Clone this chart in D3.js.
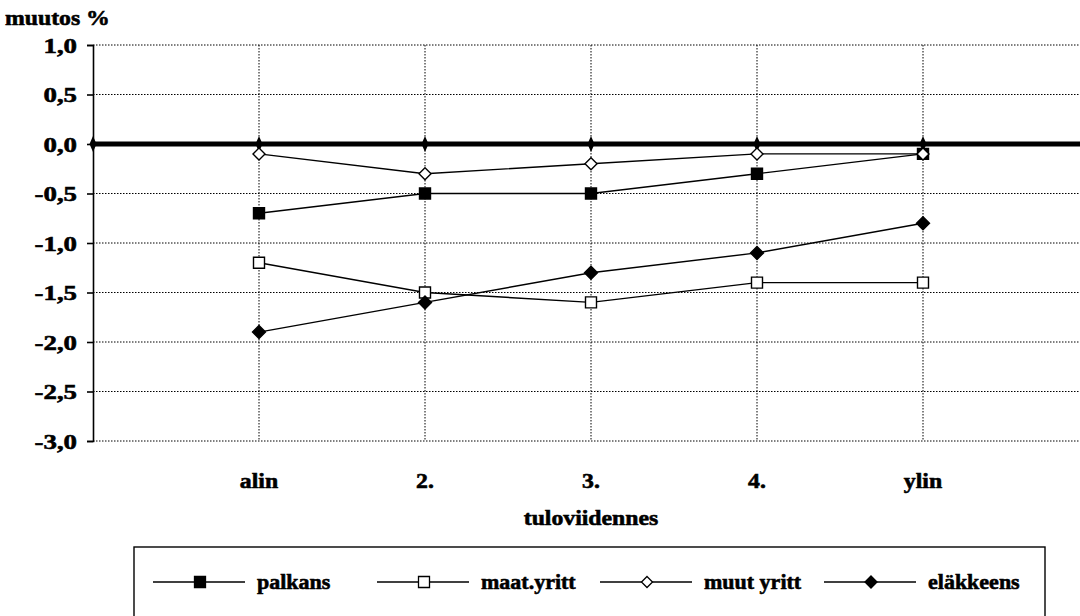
<!DOCTYPE html>
<html><head><meta charset="utf-8">
<script src="https://cdn.jsdelivr.net/npm/d3@7"></script>
<style>body{margin:0;background:#fff}svg{display:block}text{font-family:"Liberation Serif","Times New Roman",serif;font-weight:bold;fill:#000;stroke:#000;stroke-width:0.6px}</style>
</head><body><svg id="c" width="1080" height="616"></svg>
<script>
const categories = ["alin", "2.", "3.", "4.", "ylin"];
const palkans = [-0.7, -0.5, -0.5, -0.3, -0.1];
const maatYritt = [-1.2, -1.5, -1.6, -1.4, -1.4];
const muutYritt = [-0.1, -0.3, -0.2, -0.1, -0.1];
const elakkeens = [-1.9, -1.6, -1.3, -1.1, -0.8];
const zeroLine = [0, 0, 0, 0, 0, 0, 0];
const yTicks = [1.0, 0.5, 0.0, -0.5, -1.0, -1.5, -2.0, -2.5, -3.0];
const seriesNames = ["palkans", "maat.yritt", "muut yritt", "eläkkeens"];

const svg = d3.select("#c");
const x = d3.scaleLinear().domain([0, 6]).range([93, 1089]);
const y = d3.scaleLinear().domain([-3, 1]).range([441, 45]);
const fmt = v => d3.format(".1f")(v).replace(".", ",").replace("−", "-");

// gridlines
svg.append("g").selectAll("line").data(yTicks).join("line")
  .attr("x1", x(0)).attr("x2", x(6)).attr("y1", d => y(d)).attr("y2", d => y(d))
  .attr("stroke", "#000").attr("stroke-width", 1).attr("stroke-dasharray", "1.5,1.5");
svg.append("g").selectAll("line").data(categories).join("line")
  .attr("x1", (d, i) => x(i + 1)).attr("x2", (d, i) => x(i + 1)).attr("y1", y(1)).attr("y2", y(-3))
  .attr("stroke", "#000").attr("stroke-width", 1).attr("stroke-dasharray", "1.5,1.5");

// y axis
const yAxis = d3.axisLeft(y).tickValues(yTicks).tickSize(6).tickFormat(fmt);
const ga = svg.append("g").attr("transform", `translate(${x(0)},0)`).call(yAxis);
ga.select(".domain").attr("stroke", "#000").attr("stroke-width", 1.6);
ga.selectAll(".tick line").attr("stroke", "#000").attr("stroke-width", 1.6);
ga.selectAll(".tick text").attr("x", 0).attr("dy", "0.34em")
  .attr("transform", "translate(-16,0) scale(1.22,1)")
  .style("font-size", "22px").style("font-family", "'Liberation Serif',serif").style("font-weight", "bold");

// x labels
svg.append("g").selectAll("text").data(categories).join("text")
  .attr("transform", (d, i) => `translate(${x(i + 1)},488) scale(1.08,1)`).attr("text-anchor", "middle")
  .style("font-size", "22px").text(d => d);
svg.append("text").attr("transform", `translate(${x(3)},525) scale(1.08,1)`).attr("text-anchor", "middle")
  .style("font-size", "22px").text("tuloviidennes");
svg.append("text").attr("transform", "translate(5,25) scale(1.08,1)").style("font-size", "22px").text("muutos %");

// zero line
const line = d3.line().x((d, i) => x(i + 1)).y(d => y(d));
svg.append("line").attr("x1", x(0)).attr("x2", x(6)).attr("y1", y(0)).attr("y2", y(0))
  .attr("stroke", "#000").attr("stroke-width", 5);
svg.append("g").selectAll("path").data(zeroLine).join("path")
  .attr("transform", (d, i) => `translate(${x(i)},${y(d)})`)
  .attr("d", "M0,-8L3.5,0L0,8L-3.5,0Z").attr("fill", "#000");

const sq = s => `M${-s},${-s}H${s}V${s}H${-s}Z`;
const dia = s => `M0,${-s}L${s},0L0,${s}L${-s},0Z`;
const series = [
  {vals: palkans, shape: sq(5.5), fill: "#000"},
  {vals: maatYritt, shape: sq(5.5), fill: "#fff"},
  {vals: muutYritt, shape: dia(6), fill: "#fff"},
  {vals: elakkeens, shape: dia(6.5), fill: "#000"}
];
series.forEach(s => {
  svg.append("path").attr("d", line(s.vals)).attr("fill", "none").attr("stroke", "#000").attr("stroke-width", 1.4);
});
series.forEach(s => {
  svg.append("g").selectAll("path").data(s.vals).join("path")
    .attr("transform", (d, i) => `translate(${x(i + 1)},${y(d)})`)
    .attr("d", s.shape).attr("fill", s.fill).attr("stroke", "#000").attr("stroke-width", 1.4);
});

// legend
svg.append("rect").attr("x", 134).attr("y", 547).attr("width", 911).attr("height", 100)
  .attr("fill", "none").attr("stroke", "#000").attr("stroke-width", 1.4);
const legX = [153, 377, 600, 824];
const legShapes = [sq(5.5), sq(5.5), dia(5.5), dia(6)];
seriesNames.forEach((n, i) => {
  const g = svg.append("g").attr("transform", `translate(${legX[i]},582)`);
  g.append("line").attr("x1", 0).attr("x2", 92).attr("stroke", "#000").attr("stroke-width", 1.4);
  g.append("path").attr("transform", "translate(47,0)").attr("d", legShapes[i])
    .attr("fill", series[i].fill).attr("stroke", "#000").attr("stroke-width", 1.3);
  g.append("text").attr("x", 104).attr("y", 7).style("font-size", "22px").text(n);
});
</script></body></html>
